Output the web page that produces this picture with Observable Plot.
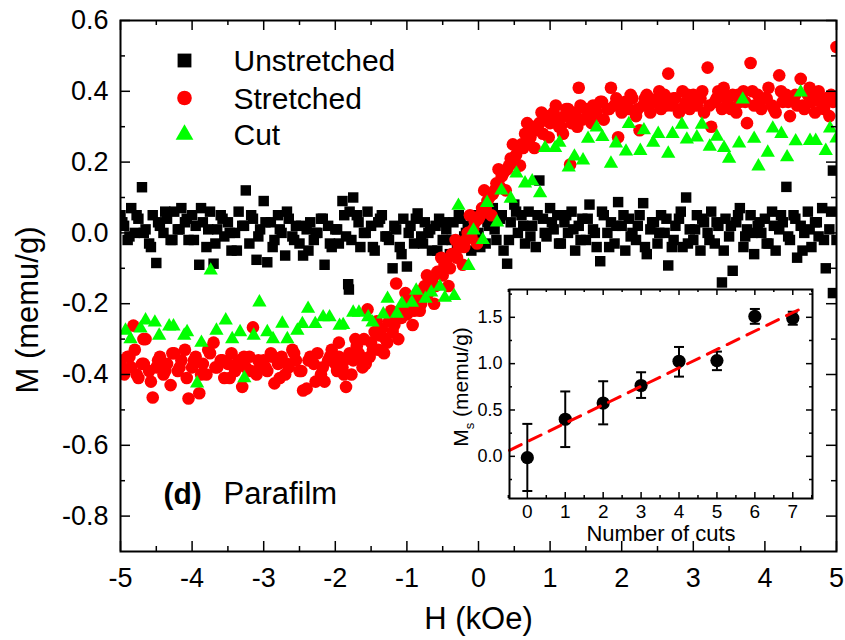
<!DOCTYPE html>
<html>
<head>
<meta charset="utf-8">
<script src="https://cdn.jsdelivr.net/npm/d3@7"></script>
<script src="https://cdn.jsdelivr.net/npm/@observablehq/plot@0.6"></script>
<style>
  body { margin: 0; background: #fff; }
  #chart { position: relative; width: 845px; height: 640px; font-family: "Liberation Sans", Arial, sans-serif; }
  #inset { position: absolute; left: 440px; top: 280px; }
  #insetYLabel { position: absolute; left: 463px; top: 387px; transform: translate(-50%, -50%) rotate(-90deg);
    white-space: nowrap; font-size: 21px; line-height: 1; color: #000; }
  #insetYLabel sub { font-size: 13px; }
</style>
</head>
<body>
<div id="chart"><div id="main"></div><div id="inset"></div><div id="insetYLabel">M<sub>s</sub> (memu/g)</div></div>
<script>
// ---------- data: main panel (H in kOe, M in memu/g) ----------
const seriesNames = ["Unstretched", "Stretched", "Cut"];
const seriesColors = ["#000000", "#ff0000", "#00ff00"];
const seriesSymbols = ["square", "circle", "triangle"];

const unstretched = [
[-5,0.05],[-4.95,0.02],[-4.9,-0.02],[-4.85,0.07],[-4.8,0],[-4.75,0.04],[-4.7,0.129],[-4.65,0.01],[-4.6,-0.03],[-4.55,0.05],
[-4.5,-0.085],[-4.45,0.02],[-4.4,0],[-4.35,0.04],[-4.3,-0.02],[-4.25,0.06],[-4.2,0.01],[-4.15,0.07],[-4.1,0.03],[-4.05,-0.02],
[-4,0.05],[-3.95,0.02],[-3.9,-0.09],[-3.85,0.03],[-3.8,-0.04],[-3.75,0.06],[-3.7,-0.087],[-3.65,0.01],[-3.6,0.05],[-3.55,-0.01],
[-3.5,0.03],[-3.45,-0.05],[-3.4,0],[-3.35,0.06],[-3.3,0.02],[-3.25,0.12],[-3.2,-0.03],[-3.15,0.04],[-3.1,-0.076],[-3.05,0.01],
[-3,0.09],[-2.95,-0.083],[-2.9,0.03],[-2.85,-0.02],[-2.8,0.05],[-2.75,0],[-2.7,-0.064],[-2.65,0.04],[-2.6,-0.01],[-2.55,0.02],
[-2.5,-0.03],[-2.45,-0.064],[-2.4,0.01],[-2.35,0.03],[-2.3,-0.02],[-2.25,0],[-2.2,0.04],[-2.15,-0.09],[-2.1,0.02],[-2.05,-0.04],
[-2,0.01],[-1.95,-0.03],[-1.9,0.09],[-1.85,-0.01],[-1.8,0.06],[-1.75,0.1],[-1.7,0.05],[-1.65,-0.04],[-1.6,0],[-1.55,0.06],
[-1.5,0.02],[-1.45,-0.05],[-1.4,0.03],[-1.35,0.05],[-1.3,-0.01],[-1.25,-0.02],[-1.2,-0.1],[-1.15,0.01],[-1.1,-0.04],[-1.05,0.04],
[-1,-0.095],[-0.95,0.02],[-0.9,-0.03],[-0.85,0.055],[-0.8,-0.01],[-0.75,0.03],[-0.7,0],[-0.65,-0.05],[-0.6,0.02],[-0.55,0.04],
[-0.5,-0.02],[-0.45,0.01],[-0.4,-0.06],[-0.35,0.03],[-0.3,-0.03],[-0.25,0.04],[-0.2,-0.01],[-0.15,0.02],[-0.1,-0.05],[-0.05,0.05],
[0,0],[0.05,0.06],[0.1,-0.03],[0.15,0.02],[0.2,0.07],[0.25,-0.02],[0.3,0.04],[0.35,-0.05],[0.4,-0.087],[0.45,0.03],
[0.5,0.08],[0.55,0],[0.6,0.05],[0.65,-0.03],[0.7,0.06],[0.75,0.02],[0.8,-0.04],[0.85,0.148],[0.9,0.04],[0.95,-0.01],
[1,0.07],[1.05,0.01],[1.1,0.05],[1.15,-0.03],[1.2,0.03],[1.25,0],[1.3,0.06],[1.35,-0.05],[1.4,0.02],[1.45,0.04],
[1.5,-0.02],[1.55,0.08],[1.6,0.01],[1.65,-0.04],[1.7,-0.08],[1.75,0.05],[1.8,0],[1.85,0.03],[1.9,-0.03],[1.95,0.087],
[2,0.02],[2.05,-0.05],[2.1,0.04],[2.15,0],[2.2,-0.02],[2.25,0.05],[2.3,0.084],[2.35,-0.06],[2.4,0.01],[2.45,0.03],
[2.5,-0.03],[2.55,0.05],[2.6,0],[2.65,-0.092],[2.7,-0.04],[2.75,0.02],[2.8,0.04],[2.85,-0.04],[2.9,0.1],[2.95,0.01],
[3,-0.02],[3.05,0.05],[3.1,-0.05],[3.15,0.03],[3.2,0],[3.25,0.06],[3.3,-0.03],[3.35,0.02],[3.4,-0.14],[3.45,0.04],
[3.5,-0.01],[3.55,-0.107],[3.6,0.03],[3.65,0.07],[3.7,-0.04],[3.75,0.01],[3.8,0.05],[3.85,-0.06],[3.9,0.02],[3.95,0],
[4,0.04],[4.05,-0.03],[4.1,0.06],[4.15,-0.05],[4.2,0.01],[4.25,0.03],[4.3,0.13],[4.35,-0.02],[4.4,0.05],[4.45,-0.07],
[4.5,0.02],[4.55,0],[4.6,0.06],[4.65,-0.04],[4.7,0.03],[4.75,-0.01],[4.8,0.07],[4.85,-0.1],[4.9,0.01],[4.95,0.176],
[5,-0.02],
[-4.975,0.03],[-4.875,-0.01],[-4.775,0.05],[-4.675,0],[-4.575,-0.04],[-4.475,0.03],[-4.375,0.06],[-4.275,-0.02],[-4.175,0.01],[-4.075,0.04],
[-3.975,-0.02],[-3.875,0.07],[-3.775,0.01],[-3.675,-0.03],[-3.575,0.04],[-3.475,0],[-3.375,-0.05],[-3.275,0.02],[-3.175,0.05],[-3.075,-0.01],
[-2.975,0.03],[-2.875,-0.04],[-2.775,0.01],[-2.675,0.06],[-2.575,-0.02],[-2.475,0.02],[-2.375,-0.05],[-2.275,0],[-2.175,0.04],[-2.075,-0.03],
[-1.975,0.01],[-1.875,0.05],[-1.775,-0.02],[-1.675,0.03],[-1.575,0],[-1.475,-0.04],[-1.375,0.04],[-1.275,-0.01],[-1.175,0.02],[-1.075,-0.06],
[-0.975,0],[-0.875,0.04],[-0.775,-0.03],[-0.675,0.01],[-0.575,-0.05],[-0.475,0.03],[-0.375,-0.02],[-0.275,0.05],[-0.175,0],[-0.075,0.02],
[0.025,-0.04],[0.125,0.03],[0.225,0.01],[0.325,0.05],[0.425,-0.02],[0.525,0.06],[0.625,0.02],[0.725,-0.01],[0.825,0.05],[0.925,0],
[1.025,0.03],[1.125,-0.03],[1.225,0.05],[1.325,0.01],[1.425,-0.02],[1.525,0.04],[1.625,0],[1.725,0.06],[1.825,-0.04],[1.925,0.02],
[2.025,0.05],[2.125,-0.01],[2.225,0.02],[2.325,-0.04],[2.425,0.03],[2.525,0],[2.625,0.04],[2.725,-0.02],[2.825,0.06],[2.925,-0.03],
[3.025,0.01],[3.125,0.04],[3.225,-0.02],[3.325,0.03],[3.425,-0.05],[3.525,0.02],[3.625,0.05],[3.725,-0.01],[3.825,0],[3.925,0.03],
[4.025,-0.03],[4.125,0.02],[4.225,0.05],[4.325,-0.01],[4.425,0.04],[4.525,-0.05],[4.625,0.01],[4.725,0.03],[4.825,-0.02],[4.925,0.06],
[-1.82,-0.145],[-1.81,-0.16],[4.95,-0.17]
];

const stretched = [
[-5,-0.36],[-4.95,-0.4],[-4.9,-0.35],[-4.85,-0.38],[-4.8,-0.33],[-4.75,-0.41],[-4.7,-0.37],[-4.65,-0.3],[-4.6,-0.39],[-4.55,-0.465],
[-4.5,-0.38],[-4.45,-0.35],[-4.4,-0.4],[-4.35,-0.37],[-4.3,-0.43],[-4.25,-0.34],[-4.2,-0.39],[-4.15,-0.36],[-4.1,-0.33],[-4.05,-0.468],
[-4,-0.38],[-3.95,-0.35],[-3.9,-0.453],[-3.85,-0.37],[-3.8,-0.4],[-3.75,-0.34],[-3.7,-0.31],[-3.65,-0.38],[-3.6,-0.36],[-3.55,-0.41],
[-3.5,-0.37],[-3.45,-0.34],[-3.4,-0.39],[-3.35,-0.36],[-3.3,-0.435],[-3.25,-0.38],[-3.2,-0.35],[-3.15,-0.267],[-3.1,-0.4],[-3.05,-0.37],
[-3,-0.36],[-2.95,-0.39],[-2.9,-0.34],[-2.85,-0.425],[-2.8,-0.37],[-2.75,-0.35],[-2.7,-0.4],[-2.65,-0.38],[-2.6,-0.33],[-2.55,-0.36],
[-2.5,-0.39],[-2.45,-0.445],[-2.4,-0.44],[-2.35,-0.35],[-2.3,-0.37],[-2.25,-0.34],[-2.2,-0.4],[-2.15,-0.42],[-2.1,-0.36],[-2.05,-0.33],
[-2,-0.37],[-1.95,-0.35],[-1.9,-0.38],[-1.85,-0.435],[-1.8,-0.34],[-1.75,-0.36],[-1.7,-0.32],[-1.65,-0.35],[-1.6,-0.3],[-1.55,-0.216],
[-1.5,-0.31],[-1.45,-0.28],[-1.4,-0.33],[-1.35,-0.27],[-1.3,-0.3],[-1.25,-0.25],[-1.2,-0.28],[-1.15,-0.143],[-1.1,-0.24],[-1.05,-0.21],
[-1,-0.23],[-0.95,-0.19],[-0.9,-0.22],[-0.85,-0.17],[-0.8,-0.2],[-0.75,-0.15],[-0.7,-0.17],[-0.65,-0.13],[-0.6,-0.15],[-0.55,-0.11],
[-0.5,-0.12],[-0.45,-0.08],[-0.4,-0.1],[-0.35,-0.06],[-0.3,-0.07],[-0.25,-0.03],[-0.2,-0.04],[-0.15,0],[-0.1,-0.01],[-0.05,0.03],
[0,0.04],[0.05,0.07],[0.1,0.07],[0.15,0.1],[0.2,0.11],[0.25,0.14],[0.3,0.13],[0.35,0.17],[0.4,0.18],[0.45,0.21],
[0.5,0.2],[0.55,0.24],[0.6,0.25],[0.65,0.28],[0.7,0.26],[0.75,0.3],[0.8,0.29],[0.85,0.31],[0.9,0.28],[0.95,0.33],
[1,0.31],[1.05,0.34],[1.1,0.32],[1.15,0.3],[1.2,0.33],[1.25,0.35],[1.3,0.31],[1.35,0.34],[1.4,0.41],[1.45,0.32],
[1.5,0.35],[1.55,0.33],[1.6,0.36],[1.65,0.34],[1.7,0.37],[1.75,0.32],[1.8,0.35],[1.85,0.41],[1.9,0.36],[1.95,0.27],
[2,0.34],[2.05,0.37],[2.1,0.35],[2.15,0.38],[2.2,0.33],[2.25,0.29],[2.3,0.36],[2.35,0.39],[2.4,0.34],[2.45,0.37],
[2.5,0.38],[2.55,0.35],[2.6,0.39],[2.65,0.45],[2.7,0.36],[2.75,0.38],[2.8,0.34],[2.85,0.4],[2.9,0.37],[2.95,0.35],
[3,0.39],[3.05,0.36],[3.1,0.38],[3.15,0.34],[3.2,0.467],[3.25,0.3],[3.3,0.37],[3.35,0.4],[3.4,0.35],[3.45,0.38],
[3.5,0.36],[3.55,0.39],[3.6,0.34],[3.65,0.37],[3.7,0.4],[3.75,0.31],[3.8,0.48],[3.85,0.36],[3.9,0.39],[3.95,0.35],
[4,0.38],[4.05,0.41],[4.1,0.36],[4.15,0.34],[4.2,0.445],[4.25,0.37],[4.3,0.39],[4.35,0.33],[4.4,0.38],[4.45,0.36],
[4.5,0.435],[4.55,0.35],[4.6,0.39],[4.65,0.37],[4.7,0.34],[4.75,0.4],[4.8,0.36],[4.85,0.38],[4.9,0.33],[4.95,0.37],
[5,0.525],
[-4.975,-0.38],[-4.875,-0.35],[-4.775,-0.4],[-4.675,-0.37],[-4.575,-0.42],[-4.475,-0.36],[-4.375,-0.39],[-4.275,-0.34],[-4.175,-0.38],[-4.075,-0.41],
[-3.975,-0.36],[-3.875,-0.4],[-3.775,-0.33],[-3.675,-0.38],[-3.575,-0.36],[-3.475,-0.41],[-3.375,-0.37],[-3.275,-0.35],[-3.175,-0.39],[-3.075,-0.36],
[-2.975,-0.38],[-2.875,-0.35],[-2.775,-0.41],[-2.675,-0.37],[-2.575,-0.34],[-2.475,-0.39],[-2.375,-0.36],[-2.275,-0.42],[-2.175,-0.38],[-2.075,-0.35],
[-1.975,-0.39],[-1.875,-0.36],[-1.775,-0.4],[-1.675,-0.34],[-1.575,-0.37],[-1.475,-0.33],[-1.375,-0.29],[-1.275,-0.31],[-1.175,-0.26],[-1.075,-0.24],
[-0.975,-0.2],[-0.875,-0.18],[-0.775,-0.16],[-0.675,-0.13],[-0.575,-0.11],[-0.475,-0.09],[-0.375,-0.06],[-0.275,-0.04],[-0.175,-0.02],[-0.075,0.01],
[0.025,0.05],[0.125,0.09],[0.225,0.12],[0.325,0.16],[0.425,0.19],[0.525,0.22],[0.625,0.24],[0.725,0.27],[0.825,0.3],[0.925,0.32],
[1.025,0.33],[1.125,0.3],[1.225,0.35],[1.325,0.32],[1.425,0.36],[1.525,0.34],[1.625,0.33],[1.725,0.37],[1.825,0.35],[1.925,0.38],
[2.025,0.36],[2.125,0.39],[2.225,0.35],[2.325,0.38],[2.425,0.37],[2.525,0.4],[2.625,0.36],[2.725,0.38],[2.825,0.35],[2.925,0.39],
[3.025,0.37],[3.125,0.4],[3.225,0.36],[3.325,0.38],[3.425,0.41],[3.525,0.35],[3.625,0.39],[3.725,0.37],[3.825,0.4],[3.925,0.36],
[4.025,0.38],[4.125,0.35],[4.225,0.4],[4.325,0.37],[4.425,0.39],[4.525,0.36],[4.625,0.41],[4.725,0.38],[4.825,0.35],[4.925,0.39],
[1.28,0.193],[-4.82,-0.262],[-4.68,-0.3],
[-1.95,-0.31],[-1.88,-0.4],[-1.72,-0.3],[-1.62,-0.38],[-1.52,-0.35],[-1.42,-0.25],[-1.32,-0.34],[-1.22,-0.22],[-1.12,-0.3],[-1.02,-0.17],
[-0.92,-0.26],[-0.82,-0.22],[-0.72,-0.12],[-0.62,-0.2],[-0.52,-0.07],[-0.42,-0.15],[-0.32,-0.02],[-0.22,-0.09],[-0.12,0.05],[-0.02,-0.03],
[0.08,0.12],[0.18,0.05],[0.28,0.18],[0.38,0.12],[0.48,0.25],[0.58,0.19],[0.68,0.31],[0.78,0.24],[0.88,0.34],[0.98,0.27],
[1.08,0.36],[1.18,0.28],[1.38,0.3],[1.58,0.31]
];

const cut = [
[-4.93,-0.276],[-4.86,-0.3],[-4.72,-0.27],[-4.65,-0.247],[-4.52,-0.253],[-4.46,-0.29],[-4.32,-0.264],[-4.26,-0.264],[-4.11,-0.29],[-4.07,-0.28],
[-3.93,-0.425],[-3.87,-0.31],[-3.74,-0.106],[-3.66,-0.276],[-3.53,-0.247],[-3.44,-0.3],[-3.33,-0.28],[-3.27,-0.41],[-3.14,-0.29],[-3.06,-0.196],
[-2.95,-0.28],[-2.87,-0.3],[-2.74,-0.256],[-2.67,-0.3],[-2.53,-0.276],[-2.46,-0.257],[-2.38,-0.214],[-2.28,-0.257],[-2.17,-0.238],[-2.08,-0.238],
[-1.94,-0.262],[-1.89,-0.26],[-1.75,-0.225],[-1.67,-0.225],[-1.54,-0.238],[-1.48,-0.253],[-1.33,-0.23],[-1.27,-0.186],[-1.14,-0.228],[-1.07,-0.2],
[-0.93,-0.197],[-0.87,-0.163],[-0.74,-0.186],[-0.66,-0.168],[-0.54,-0.152],[-0.47,-0.183],[-0.34,-0.178],[-0.28,0.077],[-0.14,-0.093],[-0.07,0.007],
[0.06,-0.02],[0.12,0.085],[0.26,0.03],[0.32,0.12],[0.45,0.097],[0.53,0.168],[0.65,0.14],[0.75,0.146],[0.86,0.112],[0.93,0.24],
[1.07,0.24],[1.13,0.255],[1.26,0.185],[1.34,0.216],[1.46,0.205],[1.53,0.266],[1.65,0.298],[1.73,0.271],[1.85,0.196],[1.92,0.253],
[2.06,0.23],[2.1,0.308],[2.26,0.232],[2.31,0.29],[2.44,0.255],[2.51,0.28],[2.65,0.224],[2.71,0.28],[2.84,0.306],[2.91,0.264],
[3.05,0.27],[3.12,0.306],[3.23,0.244],[3.33,0.272],[3.43,0.24],[3.5,0.21],[3.64,0.253],[3.69,0.377],[3.85,0.266],[3.91,0.188],
[4.04,0.227],[4.11,0.295],[4.23,0.28],[4.31,0.214],[4.43,0.259],[4.5,0.397],[4.63,0.26],[4.71,0.26],[4.85,0.232],[4.91,0.295],
[5,0.267]
];

const hDomain = [-5, 5];
const mDomain = [-0.9, 0.6];
const hTicks = [-5, -4, -3, -2, -1, 0, 1, 2, 3, 4, 5];
const hMinorTicks = [-4.5, -3.5, -2.5, -1.5, -0.5, 0.5, 1.5, 2.5, 3.5, 4.5];
const mTicks = [-0.8, -0.6, -0.4, -0.2, 0, 0.2, 0.4, 0.6];
const mMinorTicks = [-0.7, -0.5, -0.3, -0.1, 0.1, 0.3, 0.5];
const xTitle = "H (kOe)";
const yTitle = "M (memu/g)";
const panelTag = "(d)";
const panelName = "Parafilm";

// ---------- data: inset ----------
const cutsCount = [0, 1, 2, 3, 4, 5, 6, 7];
const msValue = [-0.014, 0.40, 0.575, 0.764, 1.026, 1.033, 1.51, 1.49];
const msLow   = [-0.374, 0.10, 0.345, 0.63, 0.86, 0.93, 1.43, 1.42];
const msHigh  = [0.35, 0.70, 0.81, 0.907, 1.18, 1.13, 1.59, 1.56];
const fitCuts = [-0.47, 7.2];
const fitMs   = [0.065, 1.59];
const cutsDomain = [-0.47, 7.52];
const msDomain = [-0.455, 1.8];
const cutsTicks = [0, 1, 2, 3, 4, 5, 6, 7];
const cutsMinorTicks = [-0.5, 0.5, 1.5, 2.5, 3.5, 4.5, 5.5, 6.5, 7.5];
const msTicks = [0, 0.5, 1.0, 1.5];
const msMinorTicks = [-0.25, 0.25, 0.75, 1.25, 1.75];
const insetXTitle = "Number of cuts";

// ---------- build ----------
const FONT = "'Liberation Sans', Arial, Helvetica, sans-serif";
const toRows = (pairs) => pairs.map(([h, m]) => ({h, m}));
const seriesData = [unstretched, stretched, cut].map(toRows);

const W = 845, H = 640, mL = 120, mR = 9, mT = 20, mB = 89;
const iW = W - mL - mR, iH = H - mT - mB;
const majorLen = 10, minorLen = 5;

const dataSizes = [5.9, 6.3, 5.3];
const legendSizes = [7.8, 7.3, 6.6];
const legendDy = [40, 77.5, 114];

const marks = [];
seriesData.forEach((rows, i) => {
  marks.push(Plot.dot(rows, {x: "h", y: "m", symbol: () => seriesSymbols[i], r: dataSizes[i],
    fill: seriesColors[i], stroke: "none", clip: true}));
});
// inward ticks (bottom, top, left, right)
const tickStyle = {stroke: "black", strokeWidth: 1.5};
[[hTicks, majorLen], [hMinorTicks, minorLen]].forEach(([t, len]) => {
  marks.push(Plot.tickX(t, {x: d => d, insetTop: iH - len, ...tickStyle}));
  marks.push(Plot.tickX(t, {x: d => d, insetBottom: iH - len, ...tickStyle}));
});
[[mTicks, majorLen], [mMinorTicks, minorLen]].forEach(([t, len]) => {
  marks.push(Plot.tickY(t, {y: d => d, insetRight: iW - len, ...tickStyle}));
  marks.push(Plot.tickY(t, {y: d => d, insetLeft: iW - len, ...tickStyle}));
});
marks.push(Plot.frame({stroke: "black", strokeWidth: 2}));
marks.push(Plot.axisX({ticks: hTicks, tickSize: 0, tickPadding: 16, tickFormat: d => String(d),
  fontSize: 27, label: null}));
marks.push(Plot.axisY({ticks: mTicks, tickSize: 0, tickPadding: 12, tickFormat: d => d.toFixed(1),
  fontSize: 27, label: null}));
marks.push(Plot.text([xTitle], {text: d => d, frameAnchor: "bottom", dy: 77, textAnchor: "middle",
  lineAnchor: "bottom", fontSize: 31}));
marks.push(Plot.text([yTitle], {text: d => d, frameAnchor: "left", rotate: -90, dx: -92, dy: 24,
  textAnchor: "middle", lineAnchor: "middle", fontSize: 31}));
// legend
seriesNames.forEach((name, i) => {
  marks.push(Plot.dot([name], {frameAnchor: "top-left", dx: 64, dy: legendDy[i], symbol: () => seriesSymbols[i],
    r: legendSizes[i], fill: seriesColors[i], stroke: "none"}));
  marks.push(Plot.text([name], {text: d => d, frameAnchor: "top-left", dx: 113, dy: legendDy[i] + 1,
    textAnchor: "start", lineAnchor: "middle", fontSize: 30}));
});
marks.push(Plot.text([panelTag], {text: d => d, frameAnchor: "bottom-left", dx: 43, dy: -48,
  textAnchor: "start", lineAnchor: "bottom", fontSize: 30, fontWeight: "bold"}));
marks.push(Plot.text([panelName], {text: d => d, frameAnchor: "bottom-left", dx: 103, dy: -48,
  textAnchor: "start", lineAnchor: "bottom", fontSize: 31}));

const mainPlot = Plot.plot({
  width: W, height: H, marginLeft: mL, marginRight: mR, marginTop: mT, marginBottom: mB,
  style: {fontFamily: FONT, background: "white", color: "black", overflow: "visible"},
  x: {domain: hDomain}, y: {domain: mDomain},
  marks
});
document.getElementById("main").appendChild(mainPlot);

// ---------- inset ----------
const IW = 385, IH = 270, imL = 69, imR = 13, imT = 9, imB = 52;
const iiW = IW - imL - imR, iiH = IH - imT - imB;
const insetRows = cutsCount.map((c, i) => ({c, ms: msValue[i], lo: msLow[i], hi: msHigh[i]}));
const fitRows = fitCuts.map((c, i) => ({c, ms: fitMs[i]}));
const capSymbol = {draw(context) { context.moveTo(-5, 0); context.lineTo(5, 0); }};
const iMarks = [Plot.frame({fill: "white", stroke: "none"})];
const iTick = {stroke: "black", strokeWidth: 1.5};
[[cutsTicks, 6], [cutsMinorTicks, 3]].forEach(([t, len]) => {
  iMarks.push(Plot.tickX(t, {x: d => d, insetTop: iiH - len, ...iTick}));
  iMarks.push(Plot.tickX(t, {x: d => d, insetBottom: iiH - len, ...iTick}));
});
[[msTicks, 6], [msMinorTicks, 3]].forEach(([t, len]) => {
  iMarks.push(Plot.tickY(t, {y: d => d, insetRight: iiW - len, ...iTick}));
  iMarks.push(Plot.tickY(t, {y: d => d, insetLeft: iiW - len, ...iTick}));
});
iMarks.push(
  Plot.ruleX(insetRows, {x: "c", y1: "lo", y2: "hi", stroke: "black", strokeWidth: 2}),
  Plot.dot(insetRows, {x: "c", y: "lo", symbol: capSymbol, r: 5, stroke: "black", fill: "none", strokeWidth: 2}),
  Plot.dot(insetRows, {x: "c", y: "hi", symbol: capSymbol, r: 5, stroke: "black", fill: "none", strokeWidth: 2}),
  Plot.dot(insetRows, {x: "c", y: "ms", r: 6.6, fill: "black", stroke: "none"}),
  Plot.line(fitRows, {x: "c", y: "ms", stroke: "#ff0000", strokeWidth: 3, strokeDasharray: "13,9"}),
  Plot.frame({stroke: "black", strokeWidth: 2}),
  Plot.axisX({ticks: cutsTicks, tickSize: 0, tickPadding: 6, tickFormat: d => String(d), fontSize: 19, label: null}),
  Plot.axisY({ticks: msTicks, tickSize: 0, tickPadding: 7, tickFormat: d => d.toFixed(1), fontSize: 18, label: null}),
  Plot.text([insetXTitle], {text: d => d, frameAnchor: "bottom", dy: 42, textAnchor: "middle",
    lineAnchor: "bottom", fontSize: 22})
);
const insetPlot = Plot.plot({
  width: IW, height: IH, marginLeft: imL, marginRight: imR, marginTop: imT, marginBottom: imB,
  style: {fontFamily: FONT, background: "transparent", color: "black", overflow: "visible"},
  x: {domain: cutsDomain}, y: {domain: msDomain},
  marks: iMarks
});
document.getElementById("inset").appendChild(insetPlot);
</script>
</body>
</html>
